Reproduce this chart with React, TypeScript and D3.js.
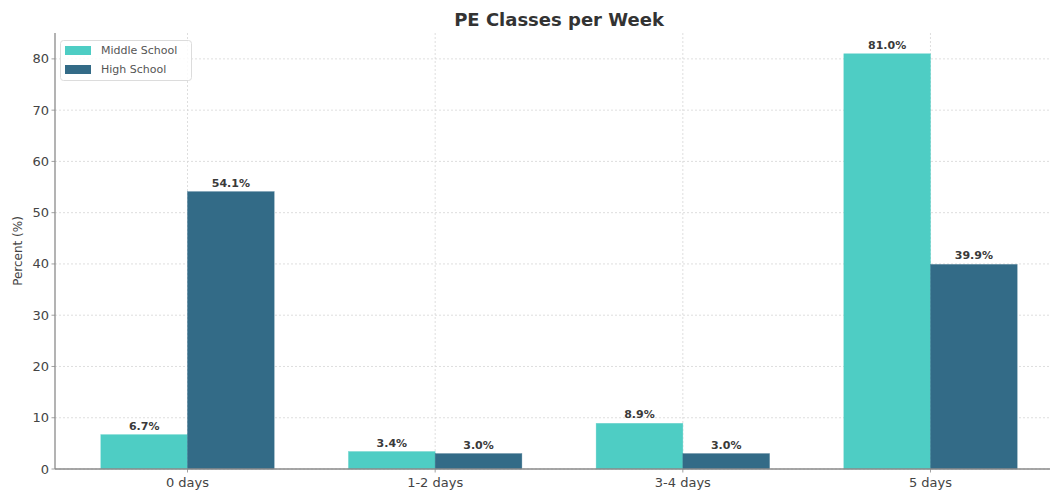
import React from "react";
import * as d3 from "d3";

const categories = ["0 days", "1-2 days", "3-4 days", "5 days"];
const middleSchool = [6.7, 3.4, 8.9, 81.0];
const highSchool = [54.1, 3.0, 3.0, 39.9];
const yTicks = [0, 10, 20, 30, 40, 50, 60, 70, 80];
const seriesNames = ["Middle School", "High School"];

const W = 1050;
const H = 491;
const margin = { top: 33, bottom: 469, left: 55, right: 1063 };
const colors = ["#4ecdc4", "#336b87"];
const barW = 0.35;
const font = "DejaVu Sans, sans-serif";

export default function App() {
  const x = d3.scaleLinear().domain([-0.535, 3.535]).range([margin.left, margin.right]);
  const yMax = d3.max([...middleSchool, ...highSchool])! * 1.05;
  const y = d3.scaleLinear().domain([0, yMax]).range([margin.bottom, margin.top]);
  const series = [middleSchool, highSchool];
  const fmt = (v: number) => d3.format(".1f")(v) + "%";

  return (
    <svg width={W} height={H} style={{ position: "absolute", left: 0, top: 0, background: "#fff" }} fontFamily={font}>
      {/* grid */}
      {yTicks.map(t => (
        <line key={"gy" + t} x1={margin.left} x2={W} y1={y(t)} y2={y(t)}
          stroke="#d6d6d6" strokeWidth={0.8} strokeDasharray="2,2" />
      ))}
      {categories.map((c, i) => (
        <line key={"gx" + c} x1={x(i)} x2={x(i)} y1={margin.top} y2={margin.bottom}
          stroke="#d6d6d6" strokeWidth={0.8} strokeDasharray="2,2" />
      ))}

      {/* bars */}
      {series.map((vals, s) =>
        vals.map((v, i) => {
          const x0 = x(i + (s === 0 ? -barW : 0));
          const x1 = x(i + (s === 0 ? 0 : barW));
          return (
            <g key={s + "-" + i}>
              <rect x={x0} y={y(v)} width={x1 - x0} height={y(0) - y(v)}
                fill={colors[s]} stroke={colors[s]} strokeOpacity={0.6} strokeWidth={0.6} />
              <text x={(x0 + x1) / 2} y={y(v) - 5} textAnchor="middle" fontSize={11}
                fontWeight="bold" fill="#3a3a3a">{fmt(v)}</text>
            </g>
          );
        })
      )}

      {/* axes */}
      <line x1={margin.left} x2={margin.left} y1={margin.top} y2={margin.bottom} stroke="#8a8a8a" strokeWidth={1.3} />
      <line x1={margin.left} x2={W} y1={margin.bottom} y2={margin.bottom} stroke="#8a8a8a" strokeWidth={1.3} />
      {yTicks.map(t => (
        <g key={"ty" + t}>
          <line x1={margin.left - 3.5} x2={margin.left} y1={y(t)} y2={y(t)} stroke="#8a8a8a" strokeWidth={0.8} />
          <text x={margin.left - 6} y={y(t)} dy="0.35em" textAnchor="end" fontSize={13} fill="#444">{t}</text>
        </g>
      ))}
      {categories.map((c, i) => (
        <g key={"tx" + c}>
          <line x1={x(i)} x2={x(i)} y1={margin.bottom} y2={margin.bottom + 3.5} stroke="#8a8a8a" strokeWidth={0.8} />
          <text x={x(i)} y={487} textAnchor="middle" fontSize={13} fill="#444">{c}</text>
        </g>
      ))}
      <text transform={`translate(22,${(margin.top + margin.bottom) / 2}) rotate(-90)`} textAnchor="middle"
        fontSize={12} fill="#444">Percent (%)</text>

      {/* title */}
      <text x={(margin.left + margin.right) / 2} y={26} textAnchor="middle" fontSize={18} fontWeight="bold" fill="#333">
        PE Classes per Week
      </text>

      {/* legend */}
      <rect x={60.5} y={40.5} width={131} height={40} rx={3} fill="#fff" fillOpacity={0.85} stroke="#dcdcdc" />
      {seriesNames.map((n, i) => (
        <g key={n} transform={`translate(65,${46 + i * 19})`}>
          <rect width={26} height={9} fill={colors[i]} />
          <text x={36} y={4.5} dy="0.35em" fontSize={11} fill="#555">{n}</text>
        </g>
      ))}
    </svg>
  );
}
